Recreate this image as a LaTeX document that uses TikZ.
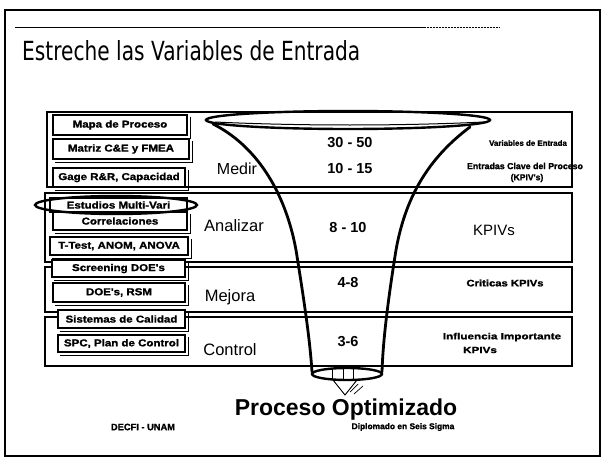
\documentclass[tikz,border=0pt]{standalone}
\usepackage{fontspec}
\setmainfont{Liberation Sans}
\newfontfamily\titlefont{DejaVu Sans}
\newfontfamily\heavyfont{Liberation Sans Bold}[FakeBold=1.3]
\usepackage{graphicx}
\newcommand\wx[2][1.15]{\scalebox{#1}[1]{#2}}
\newcommand\fsz[1]{\fontsize{#1}{#1}\selectfont}
\begin{document}
\begin{tikzpicture}[x=1pt,y=-1pt,
  txt/.style={inner sep=0pt},
  band/.style={draw, line width=1.1pt, fill=white},
  lbox/.style={draw, line width=1.1pt, fill=white, inner sep=0pt, font=\heavyfont\fsz{10}},
  shadowline/.style={line width=0.6pt},
  funnel/.style={line width=2.8pt, line cap=round},
  rim/.style={line width=2.4pt},
  phase/.style={inner sep=0pt, font=\fsz{16.5}},
  num/.style={inner sep=0pt, font=\bfseries\fsz{14.5}},
  small/.style={inner sep=0pt, font=\heavyfont\fsz{8.6}}
]
\useasboundingbox (0,0) rectangle (605,460);
\fill[white] (0,0) rectangle (605,460);

% outer frame
\draw[line width=1.1pt] (5,10) rectangle (600,456);
\draw[line width=0.8pt] (15,27) -- (425,27);
\draw[line width=0.5pt, densely dotted] (425,27) -- (500,27);

% title
\node[inner sep=0pt, anchor=base west] (title) at (22,60)
  {\resizebox{338pt}{20pt}{\titlefont Estreche las Variables de Entrada}};

% bands
\path[band] (47,112) rectangle (572,187);
\path[band] (45,193) rectangle (572,262);
\path[band] (45,267) rectangle (572,312);
\path[band] (45,317) rectangle (572,366);

% left boxes
\node[lbox, minimum width=134pt, minimum height=20pt] (mapa) at (120,125) {\wx{Mapa de Proceso}};
\node[lbox, minimum width=136pt, minimum height=20pt] (matriz) at (121,149) {\wx{Matriz C\&E y FMEA}};
\node[lbox, minimum width=132pt, minimum height=19pt] (gage) at (119,177.5) {\wx{Gage R\&R, Capacidad}};
\node[lbox, minimum width=137pt, minimum height=14pt] (estudios) at (118.5,205) {\wx{Estudios Multi-Vari}};
\node[lbox, minimum width=134pt, minimum height=18pt] (correl) at (120,221) {\wx{Correlaciones}};
\node[lbox, minimum width=138pt, minimum height=18pt] (ttest) at (119,246) {\wx{T-Test, ANOM, ANOVA}};
\node[lbox, minimum width=133pt, minimum height=17pt] (screen) at (118.5,268.5) {\wx{Screening DOE's}};
\node[lbox, minimum width=132pt, minimum height=19pt] (doers) at (119,292.5) {\wx{DOE's, RSM}};
\node[lbox, minimum width=127pt, minimum height=18pt] (sist) at (121.5,319) {\wx{Sistemas de Calidad}};
\node[lbox, minimum width=127pt, minimum height=17pt] (spc) at (121.5,343.5) {\wx{SPC, Plan de Control}};

\foreach \b in {mapa,matriz,gage,correl,ttest,screen,doers,sist,spc}{
  \draw[shadowline] ([xshift=3pt,yshift=-3pt]\b.north east) -- ([xshift=3pt,yshift=-3pt]\b.south east)
     -- ([xshift=3pt,yshift=-3pt]\b.south west);
}

% ellipse around Estudios Multi-Vari
\draw[rim] (116,205) ellipse [x radius=81, y radius=9];

% funnel
\draw[funnel] (213,124) .. controls (255,145) and (285,190) .. (296,250)
   .. controls (304,300) and (310,340) .. (312,372);
\draw[funnel] (470,127) .. controls (426,160) and (405,200) .. (396,250)
   .. controls (388,300) and (383,340) .. (382,372);
\draw[rim] (348,120) ellipse [x radius=142, y radius=9];
\draw[line width=1pt] (215,122) .. controls (300,126) and (400,126) .. (484,122);
\draw[rim] (347,374) ellipse [x radius=35, y radius=6];
\draw[line width=0.6pt] (332,369) -- (332,380) (343,368) -- (343,380) (353,368) -- (353,380);
\draw[line width=0.9pt] (333,380) -- (345,395) -- (357,380);
\draw[line width=0.7pt] (350,392) -- (358,384) (354,394) -- (363,386);

% numbers and labels
\node[num] (n1) at (350,143) {30 - 50};
\node[num] (n2) at (350,169) {10 - 15};
\node[num] (n3) at (348,228) {8 - 10};
\node[num] (n4) at (348,283) {4-8};
\node[num] (n5) at (348,342) {3-6};

\node[phase, font=\fsz{16}] (medir) at (237,169) {Medir};
\node[phase] (analizar) at (234,226) {Analizar};
\node[phase] (mejora) at (230,297) {Mejora};
\node[phase] (control) at (230,350) {Control};

\node[small, font=\heavyfont\fsz{7.9}] (varent) at (528,143) {Variables de Entrada};
\node[small, font=\heavyfont\fsz{8.8}] (entclave) at (525,166) {Entradas Clave del Proceso};
\node[small, font=\heavyfont\fsz{8.6}] (kpivq) at (527,178) {(KPIV's)};
\node[inner sep=0pt, font=\fsz{15}] (kpivs) at (494,230) {KPIVs};
\node[small, font=\heavyfont\fsz{9.4}] (criticas) at (505,283) {\wx[1.2]{Criticas KPIVs}};
\node[small, font=\heavyfont\fsz{9}] (influ) at (502,337) {\wx[1.3]{Influencia Importante}};
\node[small, font=\heavyfont\fsz{9}] (kpivs2) at (480,350) {\wx[1.3]{KPIVs}};

\node[inner sep=0pt, font=\bfseries\fsz{23}] (optim) at (346,410) {Proceso Optimizado};
\node[small, font=\heavyfont\fsz{9.3}] (decfi) at (143,427) {DECFI - UNAM};
\node[small, font=\heavyfont\fsz{8.4}] (diplo) at (403,427) {Diplomado en Seis Sigma};
\end{tikzpicture}
\end{document}
